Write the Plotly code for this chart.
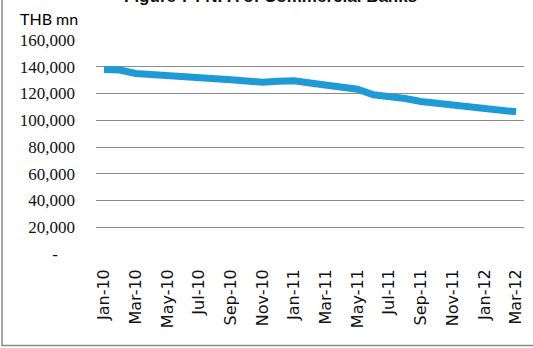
import plotly.graph_objects as go

months = ["Jan-10","Feb-10","Mar-10","Apr-10","May-10","Jun-10","Jul-10","Aug-10","Sep-10","Oct-10","Nov-10","Dec-10",
          "Jan-11","Feb-11","Mar-11","Apr-11","May-11","Jun-11","Jul-11","Aug-11","Sep-11","Oct-11","Nov-11","Dec-11",
          "Jan-12","Feb-12","Mar-12"]
nfa = [138000,137500,135000,134000,133500,133000,131800,131000,130200,129300,128500,129200,
       129500,127800,126300,124800,123200,119000,117800,116200,114000,112800,111200,111000,
       109800,108000,106300]
y_ticks = [0,20000,40000,60000,80000,100000,120000,140000,160000]
y_labels = ["-\u00a0\u00a0\u00a0\u00a0","20,000","40,000","60,000","80,000","100,000","120,000","140,000","160,000"]
x_tick_labels = months[::2]

fig = go.Figure()
fig.add_trace(go.Scatter(x=months, y=nfa, mode="lines",
                         line=dict(color="#1E9AD6", width=7), hoverinfo="skip"))

fig.update_layout(
    width=533, height=348,
    margin=dict(l=96, r=9, t=40, b=94),
    paper_bgcolor="white", plot_bgcolor="white",
    showlegend=False,
    xaxis=dict(type="category", categoryorder="array", categoryarray=months,
               range=[-0.5, len(months)-0.5], automargin=False,
               tickmode="array", tickvals=x_tick_labels, ticktext=x_tick_labels,
               tickangle=-90, showgrid=False, zeroline=False, showline=False, ticks="",
               ticklabelstandoff=11,
               tickfont=dict(family="DejaVu Sans", size=16, color="#111")),
    yaxis=dict(range=[0,160000], tickmode="array", tickvals=y_ticks, ticktext=y_labels,
               showgrid=True, gridcolor="#8c8c8c", gridwidth=1, zeroline=False, automargin=False,
               showline=False, ticks="", ticklabelstandoff=20,
               tickfont=dict(family="Liberation Serif", size=17, color="#111")),
    shapes=[dict(type="rect", xref="paper", yref="paper",
                 x0=-0.2196, x1=1.03, y0=-0.428, y1=1.25,
                 line=dict(color="#8a8a8a", width=1.5), fillcolor="rgba(0,0,0,0)")],
    annotations=[
        dict(text="THB mn", xref="paper", yref="paper", x=-0.037, y=1.045,
             xanchor="right", yanchor="bottom", showarrow=False,
             font=dict(family="Lato", size=16, color="#000")),
        dict(text="<b>Figure 7 : NFA of Commercial Banks</b>", xref="paper", yref="paper",
             x=0.407, y=1.15, xanchor="center", yanchor="bottom", showarrow=False,
             font=dict(family="Liberation Sans", size=17, color="#111")),
    ],
)
fig.write_html("out.html", config={"displayModeBar": False},
               post_script="document.body.style.margin='0';")
